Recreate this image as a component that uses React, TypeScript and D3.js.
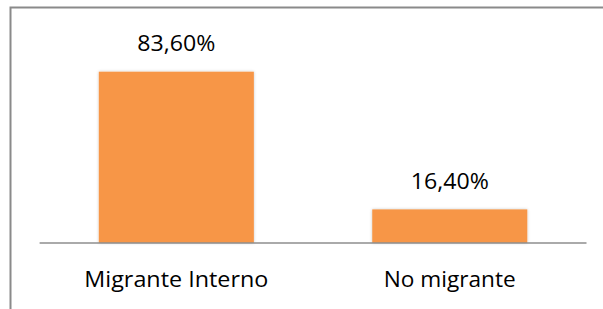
import React, { useEffect } from "react";
import * as d3 from "d3";

const categories = ["Migrante Interno", "No migrante"];
const values = [83.6, 16.4];
const valueLabels = ["83,60%", "16,40%"];

const W = 603;
const H = 309;

export default function App() {
  useEffect(() => {
    document.body.style.margin = "0";
  }, []);

  const x = d3
    .scaleBand<string>()
    .domain(categories)
    .range([39.6, 586.5])
    .paddingInner(0.433)
    .paddingOuter(0.2165);
  const y = d3.scaleLinear().domain([0, 100]).range([243, 243 - 204.9]);

  const font = "'Open Sans', sans-serif";
  const catLen = [184, 132];

  return (
    <svg width={W} height={H} style={{ display: "block", background: "#fff" }}>
      <defs>
        <filter id="sh" x="-10%" y="-10%" width="120%" height="120%">
          <feDropShadow dx="0" dy="0" stdDeviation="1.5" floodColor="#000" floodOpacity="0.22" />
        </filter>
      </defs>
      <rect x={10.5} y={7.5} width={W + 20} height={H + 20} fill="#fff" stroke="#8a8a8a" strokeWidth={2} />
      {categories.map((c, i) => (
        <rect
          key={c}
          x={x(c)}
          y={y(values[i])}
          width={x.bandwidth()}
          height={y(0) - y(values[i])}
          fill="#F79646"
          filter="url(#sh)"
        />
      ))}
      <line x1={39.6} x2={586.5} y1={y(0)} y2={y(0)} stroke="#8e8e8e" strokeWidth={1.5} />
      {categories.map((c, i) => (
        <text
          key={"v" + c}
          x={(x(c) as number) + x.bandwidth() / 2}
          y={y(values[i]) - 20.5}
          textAnchor="middle"
          fontFamily={font}
          fontSize={21}
          textLength={78}
          lengthAdjust="spacingAndGlyphs"
          fill="#000"
        >
          {valueLabels[i]}
        </text>
      ))}
      {categories.map((c, i) => (
        <text
          key={"c" + c}
          x={(x(c) as number) + x.bandwidth() / 2}
          y={286.5}
          textAnchor="middle"
          fontFamily={font}
          fontSize={22.5}
          textLength={catLen[i]}
          lengthAdjust="spacingAndGlyphs"
          fill="#000"
        >
          {c}
        </text>
      ))}
    </svg>
  );
}
